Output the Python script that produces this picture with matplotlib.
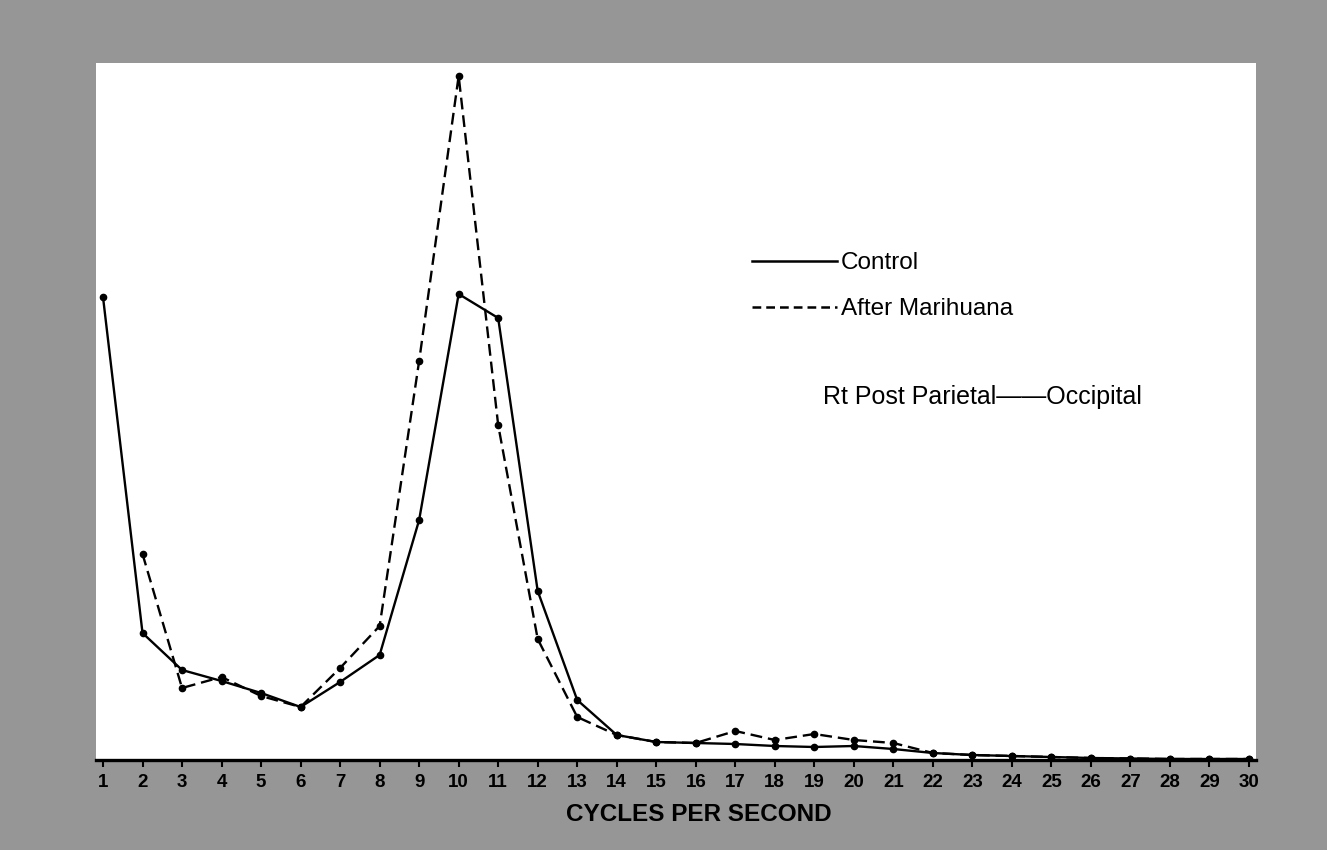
import matplotlib
matplotlib.use("Agg")
import matplotlib.pyplot as plt
from matplotlib.lines import Line2D

# ---- data (relative spectral power) ----
freq_control = list(range(1, 31))
control = [463, 127, 90, 79, 67, 53, 78, 105, 240, 466,
           442, 169, 60, 25, 18, 17, 16, 14, 13, 14,
           11, 7, 5, 4, 3, 2, 1.5, 1, 1, 1]

freq_marihuana = list(range(2, 31))
marihuana = [206, 72, 83, 64, 53, 92, 134, 399, 684,
             335, 121, 43, 25, 18, 17, 29, 20, 26, 20,
             17, 7, 5, 4, 3, 2, 1.5, 1, 1, 1]

tick_positions = list(range(1, 31))
tick_labels = [str(v) for v in tick_positions]

legend_labels = ["Control", "After Marihuana"]
annotation = "Rt Post Parietal\u2014\u2014Occipital"
xlabel = "CYCLES PER SECOND"

FONT = "Liberation Sans"

W, H = 1327, 850
fig = plt.figure(figsize=(W / 100, H / 100), dpi=100)
fig.patch.set_facecolor("#969696")

left, right, top, bottom = 96, 1256, 63, 760
ax = fig.add_axes([left / W, 1 - bottom / H, (right - left) / W, (bottom - top) / H])
ax.set_facecolor("white")

ax.plot(freq_control, control, color="black", lw=1.7, ls="-",
        marker="o", ms=4.5, zorder=3)
ax.plot(freq_marihuana, marihuana, color="black", lw=1.7, ls=(0, (5, 2.5)),
        marker="o", ms=4.5, zorder=3)

ax.set_xlim(1 - 7 / 39.5, 30 + 7 / 39.5)
ax.set_ylim(0, bottom - top)

for s in ["top", "right", "left"]:
    ax.spines[s].set_visible(False)
ax.spines["bottom"].set_linewidth(2.4)
ax.set_yticks([])
ax.set_xticks(tick_positions)
ax.set_xticklabels(tick_labels, fontfamily=FONT, fontweight="bold", fontsize=13.5)
ax.tick_params(axis="x", direction="out", length=5, width=1.5, pad=5)

ax.set_xlabel(xlabel, fontfamily=FONT, fontweight="bold", fontsize=17.5)
ax.xaxis.set_label_coords((699 - left) / (right - left), (bottom - 803) / (bottom - top))

handles = [Line2D([], [], color="black", lw=1.8, ls="-"),
           Line2D([], [], color="black", lw=1.8, ls=(0, (3.5, 2)))]
ax.legend(handles, legend_labels, loc="upper left",
          bbox_to_anchor=((752 - left) / (right - left), (bottom - 252) / (bottom - top)),
          frameon=False, borderpad=0, borderaxespad=0, handlelength=3.5,
          handletextpad=0.15, labelspacing=1.0,
          prop={"family": FONT, "size": 17.5})

ax.text((823 - left) / (right - left), (bottom - 397) / (bottom - top), annotation,
        transform=ax.transAxes, ha="left", va="center",
        fontfamily=FONT, fontsize=18)

fig.savefig("out.png", dpi=100, facecolor=fig.get_facecolor())
